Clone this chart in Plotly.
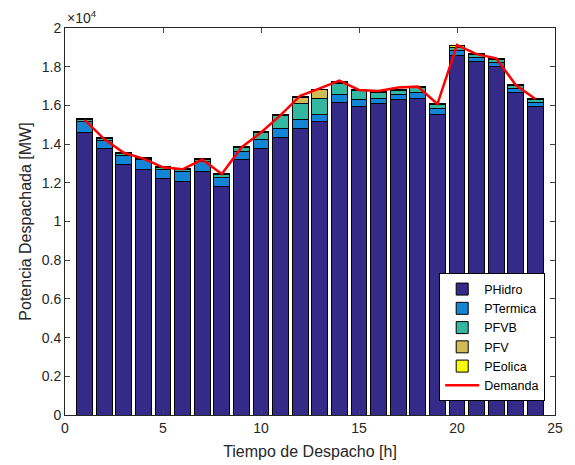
import plotly.graph_objects as go

hours = list(range(1, 25))
p_hidro = [14600, 13750, 12950, 12700, 12230, 12080, 12600, 11820, 13180, 13780, 14350, 14820,
           15190, 16160, 15930, 16110, 16320, 16370, 15540, 18600, 18260, 18000, 16680, 15930]
p_termica = [550, 460, 480, 480, 480, 500, 490, 460, 460, 480, 460, 430,
             350, 380, 380, 250, 250, 290, 280, 230, 200, 200, 170, 210]
p_fvb = [100, 80, 90, 80, 70, 120, 100, 150, 180, 330, 650, 860,
         830, 600, 450, 300, 190, 240, 210, 150, 170, 150, 170, 150]
p_fv = [0, 0, 0, 0, 0, 0, 0, 0, 0, 0, 0, 290,
        430, 30, 20, 0, 0, 0, 0, 0, 0, 0, 0, 0]
p_eolica = [60, 60, 60, 60, 50, 50, 60, 60, 60, 60, 80, 60,
            40, 60, 50, 50, 60, 60, 60, 120, 60, 60, 60, 60]
demanda = [15250, 14260, 13550, 13250, 12800, 12700, 13200, 12450, 13830, 14600, 15500, 16500,
           16880, 17280, 16800, 16750, 16930, 16970, 16070, 19120, 18650, 18430, 17050, 16330]

y_ticks = [0, 2000, 4000, 6000, 8000, 10000, 12000, 14000, 16000, 18000, 20000]
y_ticktext = ["0", "0.2", "0.4", "0.6", "0.8", "1", "1.2", "1.4", "1.6", "1.8", "2"]
x_ticks = [0, 5, 10, 15, 20, 25]

series = [
    ("PHidro", p_hidro, "#352A87"),
    ("PTermica", p_termica, "#1484D4"),
    ("PFVB", p_fvb, "#33B7A0"),
    ("PFV", p_fv, "#D1BB59"),
    ("PEolica", p_eolica, "#F9FB0E"),
]

fig = go.Figure()
for name, vals, col in series:
    fig.add_trace(go.Bar(x=hours, y=vals, name=name,
                         marker=dict(color=col, line=dict(color="black", width=1))))
fig.add_trace(go.Scatter(x=hours, y=demanda, name="Demanda", mode="lines",
                         line=dict(color="#FF0000", width=2.5)))

axis_color = "#262626"
fig.update_layout(
    width=567, height=457,
    margin=dict(l=57, r=20, t=20, b=50),
    paper_bgcolor="white", plot_bgcolor="white",
    barmode="stack", bargap=0.2,
    font=dict(family="Liberation Sans, Arial, sans-serif", size=14, color=axis_color),
    showlegend=True,
    legend=dict(x=0.98, y=0.035, xanchor="right", yanchor="bottom",
                traceorder="normal",
                bordercolor="black", borderwidth=1, bgcolor="white",
                font=dict(size=12.5, color="black"), tracegroupgap=0, itemwidth=34),
    xaxis=dict(range=[0, 25], tickvals=x_ticks, ticks="inside", ticklen=5,
               showline=True, linecolor=axis_color, linewidth=1, mirror="ticks",
               showgrid=False, zeroline=False, tickfont=dict(size=14), automargin=False,
               title=dict(text="Tiempo de Despacho [h]", font=dict(size=16), standoff=11)),
    yaxis=dict(range=[0, 20000], tickvals=y_ticks, ticktext=y_ticktext, ticks="inside", ticklen=5,
               showline=True, linecolor=axis_color, linewidth=1, mirror="ticks",
               showgrid=False, zeroline=False, tickfont=dict(size=14), automargin=False,
               title=dict(text="Potencia Despachada [MW]", font=dict(size=16), standoff=6)),
    annotations=[dict(text="×10<sup>4</sup>", xref="paper", yref="paper", x=0, y=1,
                      xanchor="left", yanchor="bottom", showarrow=False,
                      font=dict(size=14, color=axis_color))],
)

fig.write_html("out.html")
